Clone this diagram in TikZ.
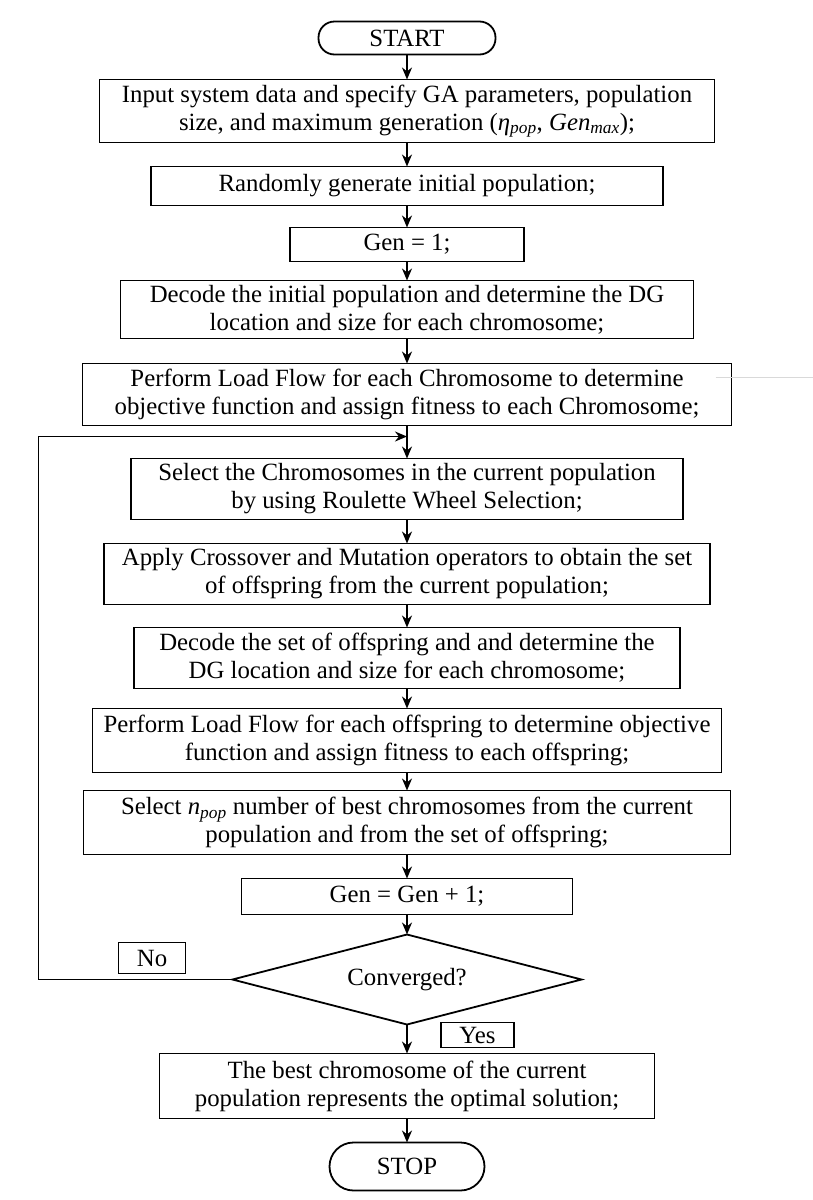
\documentclass[tikz,border=0pt]{standalone}
\usepackage{fontspec}
\setmainfont{Liberation Serif}
\usetikzlibrary{
        arrows.meta,
        positioning,
        shapes.geometric
    }
\tikzset{>={Stealth[length=12pt,width=10pt]},node distance=24pt}

\begin{document}
\begin{tikzpicture}[line width=1.8pt, font=\fontsize{24.8}{28}\selectfont,
        box/.style={draw,rectangle,align=center,inner sep=2pt,outer sep=0pt},
        term/.style={draw,rectangle,rounded corners=16pt,inner sep=0pt,outer sep=0pt},
        decide/.style={draw,diamond,aspect=3.88,inner sep=0pt,outer sep=0pt,minimum width=349pt,minimum height=90pt},
        tag/.style={draw,rectangle,inner sep=0pt,outer sep=0pt}]
                \useasboundingbox (0,0) rectangle (813pt,-1200pt);
                \node[term,minimum width=177pt,minimum height=33pt] (start) at (407pt,-38pt) {START};
                \node[box,minimum width=615pt,minimum height=63pt] (inp) [below=25pt of start]
                    {Input system data and specify GA parameters, population\\size, and maximum generation (\textit{η}\textsubscript{\textit{pop}}, \textit{Gen}\textsubscript{\textit{max}});};
                \node[box,minimum width=512pt,minimum height=39pt] (init) [below=of inp] {Randomly generate initial population;};
                \node[box,minimum width=234pt,minimum height=34pt] (gen1) [below=22pt of init] {Gen = 1;};
                \node[box,minimum width=573pt,minimum height=58pt] (dec1) [below=19pt of gen1]
                    {Decode the initial population and determine the DG\\location and size for each chromosome;};
                \node[box,minimum width=649pt,minimum height=62pt] (lf1) [below=25pt of dec1]
                    {Perform Load Flow for each Chromosome to determine\\objective function and assign fitness to each Chromosome;};
                \coordinate[below=11pt of lf1] (join);
                \node[box,minimum width=552pt,minimum height=61pt] (sel) [below=33pt of lf1]
                    {Select the Chromosomes in the current population\\by using Roulette Wheel Selection;};
                \node[box,minimum width=606pt,minimum height=61pt] (xo) [below=of sel]
                    {Apply Crossover and Mutation operators to obtain the set\\of offspring from the current population;};
                \node[box,minimum width=546pt,minimum height=61pt] (dec2) [below=23pt of xo]
                    {Decode the set of offspring and and determine the\\DG location and size for each chromosome;};
                \node[box,minimum width=629pt,minimum height=64pt] (lf2) [below=20pt of dec2]
                    {Perform Load Flow for each offspring to determine objective\\function and assign fitness to each offspring;};
                \node[box,minimum width=647pt,minimum height=64pt] (best) [below=18pt of lf2]
                    {Select \textit{n}\textsubscript{\textit{pop}} number of best chromosomes from the current\\population and from the set of offspring;};
                \node[box,minimum width=331pt,minimum height=36pt] (inc) [below=of best] {Gen = Gen + 1;};
                \node[decide] (conv) [below=20pt of inc] {Converged?};
                \node[box,minimum width=495pt,minimum height=65pt] (fin) [below=29pt of conv]
                    {The best chromosome of the current\\population represents the optimal solution;};
                \node[term,rounded corners=24pt,minimum width=155pt,minimum height=48pt] (stop) [below=of fin] {STOP};
                \coordinate[left=194pt of conv.west] (back);
                \node[tag,minimum width=67pt,minimum height=31pt] (no) [above left=6pt and 47pt of conv.west] {No};
                \node[tag,minimum width=73pt,minimum height=25pt] (yes) [below right=-2pt and 34pt of conv.south] {Yes};
                \path[->]
                    (start) edge (inp)
                    (inp)   edge (init)
                    (init)  edge (gen1)
                    (gen1)  edge (dec1)
                    (dec1)  edge (lf1)
                    (lf1)   edge (sel)
                    (sel)   edge (xo)
                    (xo)    edge (dec2)
                    (dec2)  edge (lf2)
                    (lf2)   edge (best)
                    (best)  edge (inc)
                    (inc)   edge (conv)
                    (conv)  edge (fin)
                    (fin)   edge (stop)
                ;
                \draw[->] (conv.west) -- (back) |- (join);
                % faint stray line beside the load flow box
                \draw[black!15,line width=1.2pt] ([xshift=-16pt,yshift=-14pt]lf1.north east) -- ++(101pt,0);
\end{tikzpicture}
\end{document}
